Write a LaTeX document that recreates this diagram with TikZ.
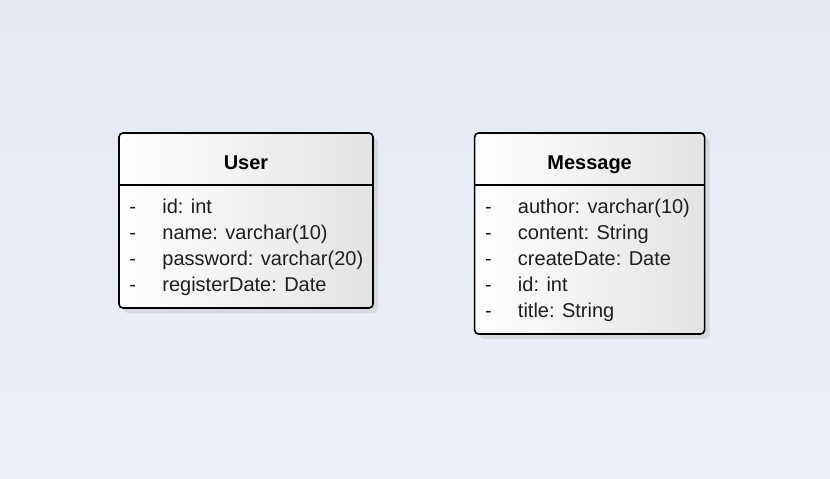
\documentclass[tikz,border=0pt]{standalone}
\usepackage{fontspec}
\setmainfont{Liberation Sans}
\usepackage{tikz}
\usetikzlibrary{positioning, shadows}
\usepackage{xcolor}

\definecolor{bgtop}{RGB}{228,232,243}
\definecolor{bgbottom}{RGB}{237,240,247}
\definecolor{attrtext}{RGB}{30,30,30}

\begin{document}
\begin{tikzpicture}[x=1pt, y=-1pt,
    classbox/.style={draw, rectangle, rounded corners=4pt, line width=1.6pt, left color=white, right color=black!11, drop shadow={shadow xshift=5pt, shadow yshift=-5pt, fill=black!22}},
    classtitle/.style={font={\fontsize{20}{24}\selectfont\bfseries}, anchor=base, inner sep=0pt},
    attrlist/.style={font={\fontsize{20}{26}\selectfont}, text=attrtext, align=left, anchor=base west, inner sep=0pt},
    sepline/.style={line width=1.6pt}]
    % Background
    \shade[top color=bgtop, bottom color=bgbottom] (0,0) rectangle (830,479);
    \useasboundingbox (0,0) rectangle (830,479);
    % Define the blocks for each class
    \node (user) [classbox, minimum width=254pt, minimum height=175pt] at (246,220.5) {};
    \node (message) [classbox, minimum width=230pt, minimum height=201pt, right=100pt of user.north east, anchor=north west] {};
    % Class names
    \node (usertitle) [classtitle] at ([yshift=-37pt]user.north) {User};
    \node (messagetitle) [classtitle] at ([yshift=-37pt]message.north) {Message};
    % Lines under the class names
    \draw[sepline] ([yshift=-53pt]user.north west) -- ([yshift=-53pt]user.north east);
    \draw[sepline] ([yshift=-53pt]message.north west) -- ([yshift=-53pt]message.north east);
    % Attributes (base anchor is on the last line)
    \node (userattrs) [attrlist] at ([xshift=11pt, yshift=-159pt]user.north west) {\makebox[33pt][l]{-}id: int \\ \makebox[33pt][l]{-}name: varchar(10) \\ \makebox[33pt][l]{-}password: varchar(20) \\ \makebox[33pt][l]{-}registerDate: Date};
    \node (messageattrs) [attrlist] at ([xshift=11pt, yshift=-185pt]message.north west) {\makebox[33pt][l]{-}author: varchar(10) \\ \makebox[33pt][l]{-}content: String \\ \makebox[33pt][l]{-}createDate: Date \\ \makebox[33pt][l]{-}id: int \\ \makebox[33pt][l]{-}title: String};
\end{tikzpicture}
\end{document}
